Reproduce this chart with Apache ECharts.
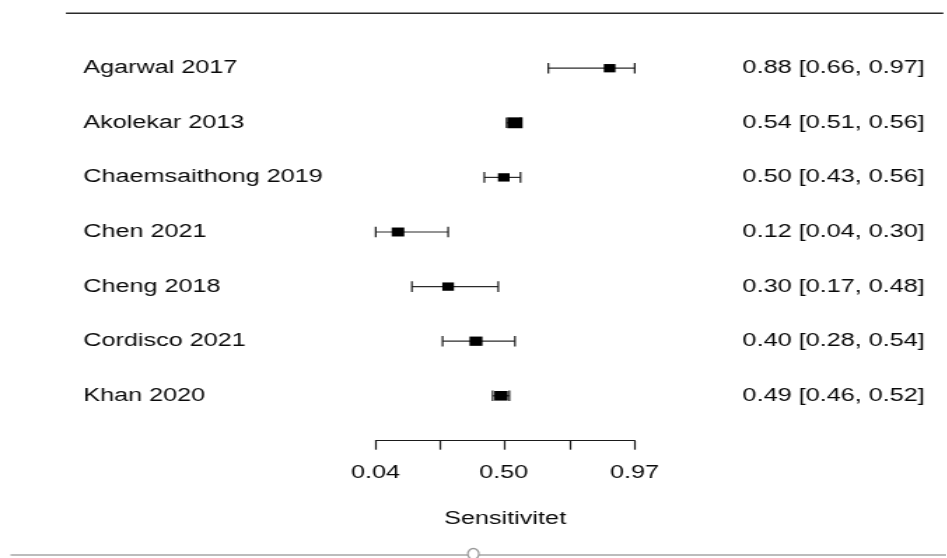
<!DOCTYPE html>
<html>
<head>
<meta charset="utf-8">
<script src="https://cdn.jsdelivr.net/npm/echarts@6/dist/echarts.min.js"></script>
<style>
html,body{margin:0;padding:0;background:#fff;overflow:hidden;}
#wrap{width:947px;height:558px;overflow:hidden;position:relative;}
#chart{width:676.43px;height:558px;transform:scaleX(1.4);transform-origin:0 0;position:absolute;left:0;top:0;}
</style>
</head>
<body>
<div id="wrap"><div id="chart"></div></div>
<script>
// ---- data ----
const studies = ['Agarwal 2017', 'Akolekar 2013', 'Chaemsaithong 2019', 'Chen 2021', 'Cheng 2018', 'Cordisco 2021', 'Khan 2020'];
const estimate = [0.88, 0.54, 0.50, 0.12, 0.30, 0.40, 0.49];
const lower    = [0.66, 0.51, 0.43, 0.04, 0.17, 0.28, 0.46];
const upper    = [0.97, 0.56, 0.56, 0.30, 0.48, 0.54, 0.52];
const weights  = [13, 17, 13, 14, 13, 14.5, 15];   // estimated relative study weights
const tickValues  = [0.04, 0.27, 0.50, 0.74, 0.97];
const labelValues = [0.04, 0.50, 0.97];
const tickLabels  = ['0.04', '0.50', '0.97'];
const axisTitle = 'Sensitivitet';

// ---- chart ----
const FONT = "'Liberation Sans', Arial, Helvetica, sans-serif";
const TXT = '#0a0a0a';
const annot = studies.map((s, i) => estimate[i].toFixed(2) + ' [' + lower[i].toFixed(2) + ', ' + upper[i].toFixed(2) + ']');
const ciData = studies.map((s, i) => [lower[i], upper[i], i, estimate[i], weights[i]]);

const chart = echarts.init(document.getElementById('chart'), null, {renderer: 'canvas'});
const W = 676.43;
const gridLeft = 268.36, gridRight = W - 453.79;

chart.setOption({
  animation: false,
  backgroundColor: '#fff',
  grid: {left: gridLeft, right: gridRight, top: 40.9, bottom: 134.9, containLabel: false},
  xAxis: {
    type: 'value', min: 0.04, max: 0.97, position: 'bottom', offset: 17.6,
    splitLine: {show: false},
    axisLine: {show: true, lineStyle: {color: '#1a1a1a', width: 1.2}},
    axisTick: {show: true, length: 9, inside: false, customValues: tickValues, lineStyle: {color: '#1a1a1a', width: 1.2}},
    axisLabel: {
      customValues: labelValues, margin: 32.8, verticalAlign: 'middle',
      fontFamily: FONT, fontSize: 18, color: TXT,
      formatter: v => { const k = labelValues.findIndex(t => Math.abs(t - v) < 1e-9); return k >= 0 ? tickLabels[k] : ''; }
    },
    name: axisTitle, nameLocation: 'middle', nameGap: 78.5,
    nameTextStyle: {fontFamily: FONT, fontSize: 18, color: TXT, verticalAlign: 'middle'}
  },
  yAxis: [
    {
      type: 'category', data: studies, inverse: true, position: 'left',
      axisLine: {show: false}, axisTick: {show: false}, splitLine: {show: false},
      axisLabel: {interval: 0, align: 'left', margin: gridLeft - 59.5, fontFamily: FONT, fontSize: 18, color: TXT}
    },
    {
      type: 'category', data: annot, inverse: true, position: 'right',
      axisLine: {show: false}, axisTick: {show: false}, splitLine: {show: false},
      axisLabel: {interval: 0, align: 'right', margin: 660.9 - 453.79, fontFamily: FONT, fontSize: 18, color: TXT}
    }
  ],
  series: [{
    type: 'custom', yAxisIndex: 0, clip: false,
    encode: {x: [0, 1, 3], y: 2},
    data: ciData,
    renderItem: function (params, api) {
      const lo = api.coord([api.value(0), api.value(2)]);
      const hi = api.coord([api.value(1), api.value(2)]);
      const c = api.coord([api.value(3), api.value(2)]);
      const s = api.value(4) * 0.64;
      const capH = 5.3;
      const ls = {stroke: '#2a2a2a', lineWidth: 1.2};
      const cs = {stroke: '#1a1a1a', lineWidth: 1.2};
      return {
        type: 'group',
        children: [
          {type: 'line', shape: {x1: lo[0], y1: lo[1], x2: hi[0], y2: hi[1]}, style: ls},
          {type: 'line', shape: {x1: lo[0], y1: lo[1] - capH, x2: lo[0], y2: lo[1] + capH}, style: cs},
          {type: 'line', shape: {x1: hi[0], y1: hi[1] - capH, x2: hi[0], y2: hi[1] + capH}, style: cs},
          {type: 'rect', shape: {x: c[0] - s / 2, y: c[1] - s / 2, width: s, height: s}, style: {fill: '#000'}}
        ]
      };
    }
  }],
  graphic: [
    {type: 'line', shape: {x1: 47.1, y1: 13.3, x2: 673.8, y2: 13.3}, style: {stroke: '#2a2a2a', lineWidth: 1.4}},
    {type: 'line', shape: {x1: 7.5, y1: 555, x2: W, y2: 555}, style: {stroke: '#bcbcbc', lineWidth: 2.2}},
    {type: 'circle', x: 338.1, y: 554, scaleX: 1 / 1.4, shape: {cx: 0, cy: 0, r: 5.5}, style: {fill: '#fff', stroke: '#999', lineWidth: 1.6}}
  ]
});
</script>
</body>
</html>
